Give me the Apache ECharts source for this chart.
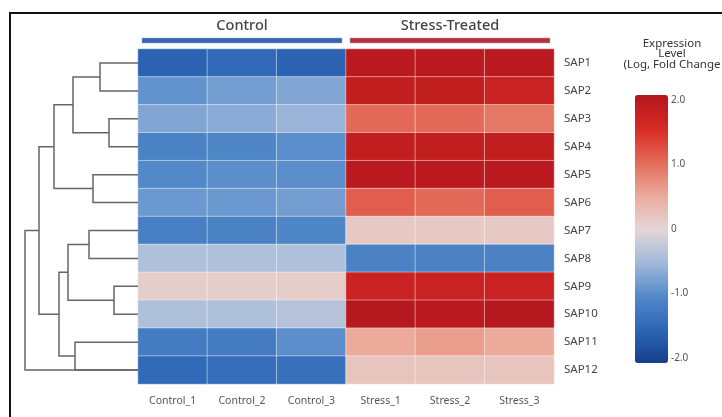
<!DOCTYPE html>
<html>
<head>
<meta charset="utf-8">
<script src="https://cdn.jsdelivr.net/npm/echarts@6/dist/echarts.min.js"></script>
<style>
  html, body { margin: 0; padding: 0; background: #fff; }
  #chart { width: 722px; height: 417px; }
</style>
</head>
<body>
<div id="chart"></div>
<script>
// samples (columns) and genes (rows)
const samples = ['Control_1', 'Control_2', 'Control_3', 'Stress_1', 'Stress_2', 'Stress_3'];
const genes = ['SAP1', 'SAP2', 'SAP3', 'SAP4', 'SAP5', 'SAP6', 'SAP7', 'SAP8', 'SAP9', 'SAP10', 'SAP11', 'SAP12'];

// log2 fold change per sample, one value per gene
const control1 = [-1.55, -0.9, -0.7, -1.1, -1.0, -0.85, -1.15, -0.4, 0.1, -0.4, -1.2, -1.45];
const control2 = [-1.45, -0.8, -0.65, -1.05, -0.95, -0.85, -1.1, -0.4, 0.1, -0.4, -1.2, -1.4];
const control3 = [-1.55, -0.7, -0.55, -0.95, -0.95, -0.8, -1.05, -0.4, 0.1, -0.35, -0.95, -1.35];
const stress1 = [1.9, 1.8, 1.0, 1.8, 1.9, 1.1, 0.15, -1.1, 1.7, 1.95, 0.5, 0.2];
const stress2 = [1.9, 1.8, 1.0, 1.8, 1.9, 1.0, 0.15, -1.1, 1.7, 1.9, 0.6, 0.2];
const stress3 = [1.9, 1.7, 0.9, 1.8, 1.9, 1.1, 0.15, -1.1, 1.7, 1.95, 0.5, 0.2];

// sample groups shown above the heatmap
const groupNames = ['Control', 'Stress-Treated'];
const groupFirst = [0, 3];
const groupLast = [2, 5];

// row dendrogram: leaves are 0..11, merge k creates node 12 + k
const merges = [[0, 1], [2, 3], [12, 13], [4, 5], [14, 15], [6, 7], [8, 9], [17, 18], [10, 11], [19, 20], [16, 21], [22, 11]];
const mergeHeights = [38, 29, 65, 45, 84, 49, 24, 70, 63, 79, 99, 113];

// colour bar range
const scaleMin = -2;
const scaleMax = 2;

const groupColors = ['#3a62b2', '#c42a36'];
const scaleColors = ['#173f8c', '#2d66b6', '#5389c8', '#a2badb', '#e4d6d6', '#ebaa9a', '#e36a58', '#d82a24', '#b2161e'];

const columns = [control1, control2, control3, stress1, stress2, stress3];
const heatData = [];
columns.forEach((col, i) => {
  col.forEach((v, j) => heatData.push([i, j, v]));
});

// node positions for the dendrogram
const nodeY = genes.map((g, i) => i);
const nodeH = genes.map(() => 0);
const links = [];
merges.forEach((m, k) => {
  const a = m[0], b = m[1];
  const top = nodeY[a] <= nodeY[b] ? a : b;
  const bot = top === a ? b : a;
  links.push([nodeY[top], nodeH[top], nodeY[bot], nodeH[bot], mergeHeights[k]]);
  nodeY.push((nodeY[a] + nodeY[b]) / 2);
  nodeH.push(mergeHeights[k]);
});

const groupData = groupNames.map((n, i) => [groupFirst[i], 0, groupLast[i], i]);

const chart = echarts.init(document.getElementById('chart'));
const font = 'Noto Sans';

const option = {
  animation: false,
  textStyle: { fontFamily: font },
  title: {
    text: 'Expression\nLevel\n(Log, Fold Change',
    left: 667,
    top: 33,
    textAlign: 'center',
    textStyle: { fontSize: 11.5, fontWeight: 'normal', color: '#333', lineHeight: 10.5, fontFamily: font }
  },
  graphic: [{
    type: 'rect',
    shape: { x: 10, y: 13, width: 900, height: 600 },
    style: { fill: 'none', stroke: '#111', lineWidth: 2 },
    silent: true
  }],
  grid: [
    { left: 138, right: 168, top: 49, height: 335 },
    { left: 25, right: 584, top: 49, height: 335 },
    { left: 635, width: 33, top: 100, height: 258 }
  ],
  xAxis: [{
    type: 'category',
    gridIndex: 0,
    data: samples,
    axisLine: { show: false },
    axisTick: { show: false },
    splitLine: { show: false },
    axisLabel: { fontSize: 10.5, color: '#555', margin: 12 }
  }, {
    type: 'value',
    gridIndex: 1,
    min: 0,
    max: 113,
    inverse: true,
    show: false
  }, {
    type: 'value',
    gridIndex: 2,
    show: false
  }],
  yAxis: [{
    type: 'category',
    gridIndex: 0,
    data: genes,
    inverse: true,
    position: 'right',
    axisLine: { show: false },
    axisTick: { show: false },
    splitLine: { show: false },
    axisLabel: { fontSize: 11.5, color: '#444', margin: 10 }
  }, {
    type: 'value',
    gridIndex: 1,
    min: -0.5,
    max: 11.5,
    inverse: true,
    show: false
  }, {
    type: 'value',
    gridIndex: 2,
    min: scaleMin,
    max: scaleMax,
    interval: 1,
    position: 'right',
    axisLine: { show: false },
    axisTick: { show: false },
    splitLine: { show: false },
    axisLabel: {
      fontSize: 10,
      color: '#555',
      margin: 3,
      formatter: v => (v === 0 ? '0' : v.toFixed(1))
    }
  }],
  visualMap: {
    type: 'continuous',
    min: scaleMin,
    max: scaleMax,
    seriesIndex: 0,
    calculable: false,
    hoverLink: false,
    orient: 'vertical',
    left: 635,
    top: 95,
    padding: 0,
    itemWidth: 33,
    itemHeight: 268,
    text: null,
    showLabel: false,
    inRange: { color: scaleColors }
  },
  series: [{
    type: 'heatmap',
    xAxisIndex: 0,
    yAxisIndex: 0,
    data: heatData,
    itemStyle: { borderColor: 'rgba(255,255,255,0.45)', borderWidth: 1 },
    emphasis: { disabled: true }
  }, {
    type: 'custom',
    xAxisIndex: 1,
    yAxisIndex: 1,
    data: links,
    silent: true,
    clip: false,
    renderItem: (params, api) => {
      const p1 = api.coord([api.value(1), api.value(0)]);
      const p2 = api.coord([api.value(4), api.value(0)]);
      const p3 = api.coord([api.value(4), api.value(2)]);
      const p4 = api.coord([api.value(3), api.value(2)]);
      return {
        type: 'polyline',
        shape: { points: [p1, p2, p3, p4] },
        style: { fill: 'none', stroke: '#666', lineWidth: 1.5 }
      };
    }
  }, {
    type: 'custom',
    xAxisIndex: 0,
    yAxisIndex: 0,
    data: groupData,
    silent: true,
    clip: false,
    renderItem: (params, api) => {
      const bw = api.size([1, 0])[0];
      const x0 = api.coord([api.value(0), 0])[0] - bw / 2 + 4;
      const x1 = api.coord([api.value(2), 0])[0] + bw / 2 - 4;
      const y = params.coordSys.y - 11;
      const idx = api.value(3);
      return {
        type: 'group',
        children: [{
          type: 'rect',
          shape: { x: x0, y: y, width: x1 - x0, height: 5 },
          style: { fill: groupColors[idx], stroke: 'rgba(140,180,230,0.5)', lineWidth: 1 }
        }, {
          type: 'text',
          style: {
            x: (x0 + x1) / 2,
            y: y - 5,
            text: groupNames[idx],
            align: 'center',
            verticalAlign: 'bottom',
            fontSize: 14.5,
            fontWeight: 500,
            fontFamily: font,
            fill: '#444'
          }
        }]
      };
    }
  }]
};

chart.setOption(option);
</script>
</body>
</html>
